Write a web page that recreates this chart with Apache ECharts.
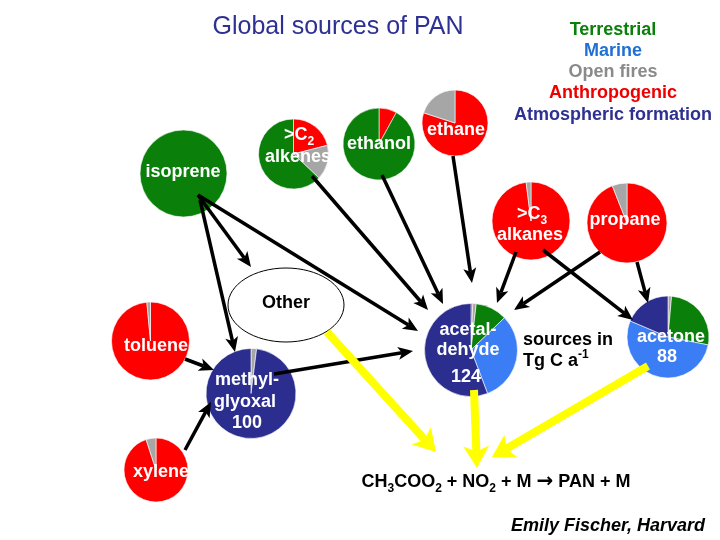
<!DOCTYPE html>
<html><head><meta charset="utf-8">
<script src="https://cdn.jsdelivr.net/npm/echarts@6/dist/echarts.min.js"></script>
<style>html,body{margin:0;padding:0;background:#fff}#c{width:720px;height:540px}</style>
</head><body><div id="c"></div>
<script>
// ---- data: share (%) of each source, order: Anthropogenic, Open fires, Terrestrial, Marine, Atmospheric formation
const sourceNames = ['Anthropogenic', 'Open fires', 'Terrestrial', 'Marine', 'Atmospheric formation'];
const isoprene      = [0, 0, 100, 0, 0];
const alkenesC2     = [21, 16, 63, 0, 0];
const ethanol       = [8, 0, 92, 0, 0];
const ethane        = [80, 20, 0, 0, 0];
const alkanesC3     = [98, 2, 0, 0, 0];
const propane       = [94, 6, 0, 0, 0];
const acetaldehyde  = [0.6, 1.2, 11, 31.4, 55.8];
const acetone       = [0, 1.4, 26.7, 53.3, 18.6];
const toluene       = [98.5, 1.5, 0, 0, 0];
const methylglyoxal = [0, 2, 0, 0, 98];
const xylene        = [95, 5, 0, 0, 0];
// totals in Tg C a-1
const totalAcetaldehyde = '124';
const totalMethylglyoxal = '100';
const totalAcetone = '88';
const legendLines = ['Terrestrial', 'Marine', 'Open fires', 'Anthropogenic', 'Atmospheric formation'];

// ---- styling / layout
const sourceColors = ['#FF0000', '#A6A6A6', '#0A7F0A', '#3B7DF5', '#2B2E8E'];
const legendColors = ['#0A7F0A', '#1F6FD4', '#8A8A8A', '#EE0000', '#2E3192'];
const FF = '"Liberation Sans", Arial, Helvetica, sans-serif';

const pies = [
  { name: 'isoprene', values: isoprene, center: [183.5, 173.5], r: 43.5 },
  { name: '>C2 alkenes', values: alkenesC2, center: [293.5, 154], r: 35 },
  { name: 'ethanol', values: ethanol, center: [379, 144], r: 36 },
  { name: 'ethane', values: ethane, center: [455, 123], r: 33 },
  { name: '>C3 alkanes', values: alkanesC3, center: [531, 221], r: 39 },
  { name: 'propane', values: propane, center: [627, 223], r: 40 },
  { name: 'acetaldehyde', values: acetaldehyde, center: [471, 350], r: 46.5 },
  { name: 'acetone', values: acetone, center: [668, 337], r: 41 },
  { name: 'toluene', values: toluene, center: [150.5, 341], r: 39 },
  { name: 'methylglyoxal', values: methylglyoxal, center: [251, 393.5], r: 45 },
  { name: 'xylene', values: xylene, center: [156, 470], r: 32 }
];

const series = pies.map(p => ({
  type: 'pie', name: p.name, center: p.center, radius: p.r,
  startAngle: 90, clockwise: true, silent: true, animation: false,
  label: { show: false }, labelLine: { show: false },
  emphasis: { disabled: true },
  itemStyle: { borderColor: '#ffffff', borderWidth: 0.6 },
  data: p.values.map((v, i) => ({ value: v, name: sourceNames[i], itemStyle: { color: sourceColors[i] } }))
                .filter(d => d.value > 0)
}));

// ---- text helpers
const mctx = document.createElement('canvas').getContext('2d');
function fontOf(size, weight, italic, fam) { return (italic ? 'italic ' : '') + (weight || 'normal') + ' ' + size + 'px ' + (fam || FF); }
function seq(parts, x, y, align, color, size, weight, italic) {
  const subSize = Math.round(size * 0.68);
  const items = parts.map(([t, k]) => {
    let f;
    if (k === 'arr') f = fontOf(size + 2, 'bold', false, '"DejaVu Sans", sans-serif');
    else f = fontOf(k === 'n' ? size : subSize, weight, italic);
    mctx.font = f;
    return { t, f, w: mctx.measureText(t).width, dy: k === 'sub' ? size * 0.36 : (k === 'sup' ? -size * 0.33 : 0) };
  });
  const total = items.reduce((a, b) => a + b.w, 0);
  let cx = align === 'center' ? x - total / 2 : (align === 'right' ? x - total : x);
  return items.map(it => {
    const el = { type: 'text', x: cx, y: y + it.dy, z: 120, silent: true,
      style: { text: it.t, font: it.f, fill: color, align: 'left', verticalAlign: 'middle' } };
    cx += it.w;
    return el;
  });
}
function txt(t, x, y, color, size, weight, align, italic) {
  return { type: 'text', x, y, z: 120, silent: true,
    style: { text: t, font: fontOf(size, weight, italic), fill: color, align: align || 'center', verticalAlign: 'middle' } };
}
function arrow(x1, y1, x2, y2, w, color, hl, hw) {
  const dx = x2 - x1, dy = y2 - y1, L = Math.hypot(dx, dy), ux = dx / L, uy = dy / L;
  const bx = x2 - ux * hl, by = y2 - uy * hl, px = -uy, py = ux;
  const nx = bx + ux * hl * 0.25, ny = by + uy * hl * 0.25;
  return [
    { type: 'line', z: 100, silent: true, shape: { x1, y1, x2: nx, y2: ny }, style: { stroke: color, lineWidth: w } },
    { type: 'polygon', z: 100, silent: true,
      shape: { points: [[x2, y2], [bx + px * hw / 2, by + py * hw / 2], [nx, ny], [bx - px * hw / 2, by - py * hw / 2]] },
      style: { fill: color } }
  ];
}

// connectors (start x,y -> tip x,y)
const blackArrows = [
  [198, 195, 251, 267], [198, 195, 418, 331], [200, 200, 235, 352],
  [312, 176, 428, 310], [382, 175, 443, 304], [453, 156, 472, 283],
  [516, 252, 497, 303], [543, 250, 633, 320], [600, 252, 514, 310],
  [637, 262, 648, 303], [185, 359, 214, 370], [185, 450, 211, 402],
  [274, 374, 413, 351]
];
const yellowArrows = [[327, 332, 436, 452], [474, 390, 477, 468], [648, 366, 492, 457]];

const W = '#ffffff', S = 18;
let g = [];
g.push({ type: 'ellipse', z: 90, silent: true, shape: { cx: 286, cy: 305, rx: 58, ry: 37 }, style: { fill: 'none', stroke: '#000', lineWidth: 1 } });
blackArrows.forEach(a => g = g.concat(arrow(a[0], a[1], a[2], a[3], 3.5, '#000000', 15, 13)));
yellowArrows.forEach(a => g = g.concat(arrow(a[0], a[1], a[2], a[3], 8, '#FFFF00', 22, 26)));

g.push(txt('Global sources of PAN', 338, 27, '#2E3192', 25, 'normal'));
const legendY = [30, 51, 72, 93, 115];
legendLines.forEach((t, i) => g.push(txt(t, 613, legendY[i], legendColors[i], S, 'bold')));

g.push(txt('isoprene', 183, 172, W, S, 'bold'));
g = g.concat(seq([['>C', 'n'], ['2', 'sub']], 299, 135, 'center', W, S, 'bold'));
g.push(txt('alkenes', 298, 157, W, S, 'bold'));
g.push(txt('ethanol', 379, 144, W, S, 'bold'));
g.push(txt('ethane', 456, 130, W, S, 'bold'));
g = g.concat(seq([['>C', 'n'], ['3', 'sub']], 532, 214, 'center', W, S, 'bold'));
g.push(txt('alkanes', 530, 235, W, S, 'bold'));
g.push(txt('propane', 625, 220, W, S, 'bold'));
g.push(txt('acetal-', 468, 330, W, S, 'bold'));
g.push(txt('dehyde', 468, 350, W, S, 'bold'));
g.push(txt(totalAcetaldehyde, 466, 377, W, S, 'bold'));
g.push(txt('acetone', 671, 337, W, S, 'bold'));
g.push(txt(totalAcetone, 667, 357, W, S, 'bold'));
g.push(txt('toluene', 156, 346, W, S, 'bold'));
g.push(txt('methyl-', 247, 380, W, S, 'bold'));
g.push(txt('glyoxal', 245, 402, W, S, 'bold'));
g.push(txt(totalMethylglyoxal, 247, 423, W, S, 'bold'));
g.push(txt('xylene', 161, 472, W, S, 'bold'));
g.push(txt('Other', 286, 303, '#000', S, 'bold'));
g.push(txt('sources in', 523, 340, '#000', S, 'bold', 'left'));
g = g.concat(seq([['Tg C a', 'n'], ['-1', 'sup']], 523, 361, 'left', '#000', S, 'bold'));
g = g.concat(seq([['CH', 'n'], ['3', 'sub'], ['COO', 'n'], ['2', 'sub'], [' + NO', 'n'], ['2', 'sub'], [' + M ', 'n'], ['\u2192', 'arr'], [' PAN + M', 'n']], 496, 482, 'center', '#000', S, 'bold'));
g.push(txt('Emily Fischer, Harvard', 608, 526, '#000', S, 'bold', 'center', true));

const chart = echarts.init(document.getElementById('c'), null, { renderer: 'canvas' });
chart.setOption({ backgroundColor: '#ffffff', animation: false, series, graphic: { elements: g } });
</script></body></html>
